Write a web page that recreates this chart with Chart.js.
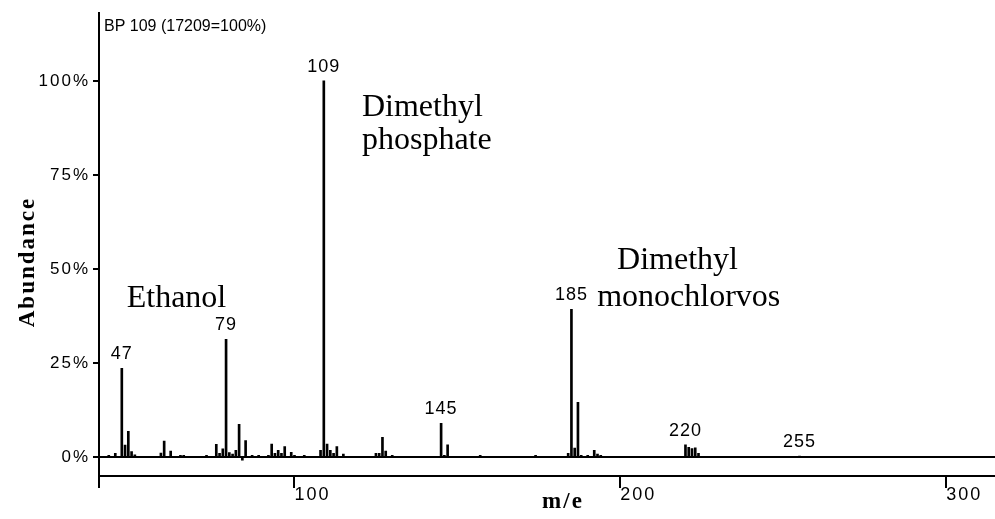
<!DOCTYPE html>
<html lang="en">
<head>
    <meta charset="UTF-8">
    <title>Mass spectrum</title>
    <script src="https://cdn.jsdelivr.net/npm/chart.js"></script>
    <style>
        body { margin: 0; background: #fff; }
        #wrap { width: 995px; height: 519px; position: relative; }
    </style>
</head>
<body>
<div id="wrap"><canvas id="spectrum"></canvas></div>

<script>
    // m/e values and relative abundance (%)
    const mz = [43, 45, 47, 48, 49, 50, 51, 59, 60, 62, 65, 66, 73, 76, 77, 78, 79, 80, 81, 82, 83, 84, 85, 87, 89,
        92, 93, 94, 95, 96, 97, 99, 100, 103, 108, 109, 110, 111, 112, 113, 115, 125, 126, 127, 128, 130,
        145, 146, 147, 157, 174, 184, 185, 186, 187, 188, 190, 192, 193, 194, 220, 221, 222, 223, 224, 255];
    const abundance = [0.5, 1.0, 23.6, 3.2, 6.9, 1.5, 0.6, 1.1, 4.3, 1.6, 0.5, 0.5, 0.5, 3.4, 1.0, 2.2, 31.3, 1.2, 0.8, 1.8, 8.7, -0.8, 4.4, 0.5, 0.5,
        0.5, 3.5, 1.0, 1.8, 1.0, 2.8, 1.3, 0.5, 0.5, 1.8, 100, 3.5, 1.8, 1.0, 2.8, 0.8, 1.0, 1.0, 5.3, 1.6, 0.5,
        9.0, 0.5, 3.3, 0.5, 0.5, 1.0, 39.3, 2.4, 14.6, 0.5, 0.5, 1.8, 0.8, 0.5, 3.3, 2.6, 2.3, 2.5, 1.0, 0.3];
    const labelledPeaks = [47, 79, 109, 145, 185, 220, 255];
    const xTicks = [40, 100, 200, 300];
    const yTicks = [0, 25, 50, 75, 100];
    const header = 'BP 109 (17209=100%)';

    // compound annotations: text lines anchored at (m/e, %)
    const notes = [
        { lines: ['Ethanol'], at: [48.5, 39.9] },
        { lines: ['Dimethyl', 'phosphate'], at: [120.7, 90.7] },
        { lines: ['Dimethyl'], at: [199, 50.1] },
        { lines: ['monochlorvos'], at: [192.9, 40.3] }
    ];

    const sans = "'Liberation Sans', Arial, sans-serif";
    const serif = "'Liberation Serif', 'Times New Roman', serif";

    const textPlugin = {
        id: 'spectrumText',
        beforeDraw(chart) {
            // the original tick font is a wide bitmap face
            chart.ctx.letterSpacing = '2px';
        },
        afterDatasetsDraw(chart) {
            const ctx = chart.ctx;
            const x = chart.scales.x, y = chart.scales.y;
            const area = chart.chartArea;
            ctx.save();
            ctx.fillStyle = '#000';

            // peak labels
            ctx.font = '18px ' + sans;
            ctx.letterSpacing = '1px';
            ctx.textAlign = 'center';
            ctx.textBaseline = 'alphabetic';
            labelledPeaks.forEach(m => {
                const i = mz.indexOf(m);
                const v = i >= 0 ? abundance[i] : 0;
                ctx.fillText(String(m), x.getPixelForValue(m), y.getPixelForValue(v) - 9);
            });

            // header
            ctx.font = '16px ' + sans;
            ctx.letterSpacing = '0px';
            ctx.textAlign = 'left';
            ctx.fillText(header, area.left + 5, area.top + 18);

            // compound names
            ctx.font = '32px ' + serif;
            notes.forEach(n => {
                const px = x.getPixelForValue(n.at[0]);
                const py = y.getPixelForValue(n.at[1]);
                n.lines.forEach((t, k) => ctx.fillText(t, px, py + k * 33));
            });

            // axis titles
            ctx.font = 'bold 23px ' + serif;
            ctx.letterSpacing = '2px';
            ctx.textAlign = 'center';
            ctx.fillText('m/e', (area.left + area.right) / 2 + 16, 508);
            ctx.translate(34, 262);
            ctx.rotate(-Math.PI / 2);
            ctx.fillText('Abundance', 0, 0);
            ctx.restore();
        }
    };

    const ctx = document.getElementById('spectrum').getContext('2d');
    new Chart(ctx, {
        type: 'bar',
        data: {
            datasets: [{
                data: mz.map((m, i) => ({ x: m, y: abundance[i] })),
                backgroundColor: '#000',
                borderWidth: 0,
                barThickness: 2
            }]
        },
        options: {
            responsive: true,
            maintainAspectRatio: false,
            animation: false,
            layout: { padding: { top: 13, left: 0, right: 0, bottom: 0 } },
            plugins: { legend: { display: false }, tooltip: { enabled: false } },
            scales: {
                x: {
                    type: 'linear',
                    min: 40,
                    max: 315,
                    offset: false,
                    afterBuildTicks: s => { s.ticks = xTicks.map(v => ({ value: v })); },
                    afterFit: s => { s.height = 43; },
                    border: { display: true, color: '#000', width: 2 },
                    grid: { drawOnChartArea: false, drawTicks: true, tickLength: 12, color: '#000', lineWidth: 2, offset: false },
                    ticks: {
                        align: 'start',
                        padding: -4,
                        color: '#000',
                        font: { family: sans, size: 18 },
                        maxRotation: 0,
                        callback: v => (v === 40 ? '' : String(v))
                    }
                },
                y: {
                    min: -5,
                    max: 118,
                    afterBuildTicks: s => { s.ticks = yTicks.map(v => ({ value: v })); },
                    afterFit: s => { s.width = 99; },
                    border: { display: true, color: '#000', width: 2 },
                    grid: {
                        drawTicks: true,
                        tickLength: 6,
                        lineWidth: 2,
                        tickColor: '#000',
                        color: c => (c.tick && c.tick.value === 0 ? '#000' : 'rgba(0,0,0,0)')
                    },
                    ticks: {
                        padding: 3,
                        color: '#000',
                        font: { family: sans, size: 17 },
                        callback: v => v + '%'
                    }
                }
            }
        },
        plugins: [textPlugin]
    });
</script>
</body>
</html>
